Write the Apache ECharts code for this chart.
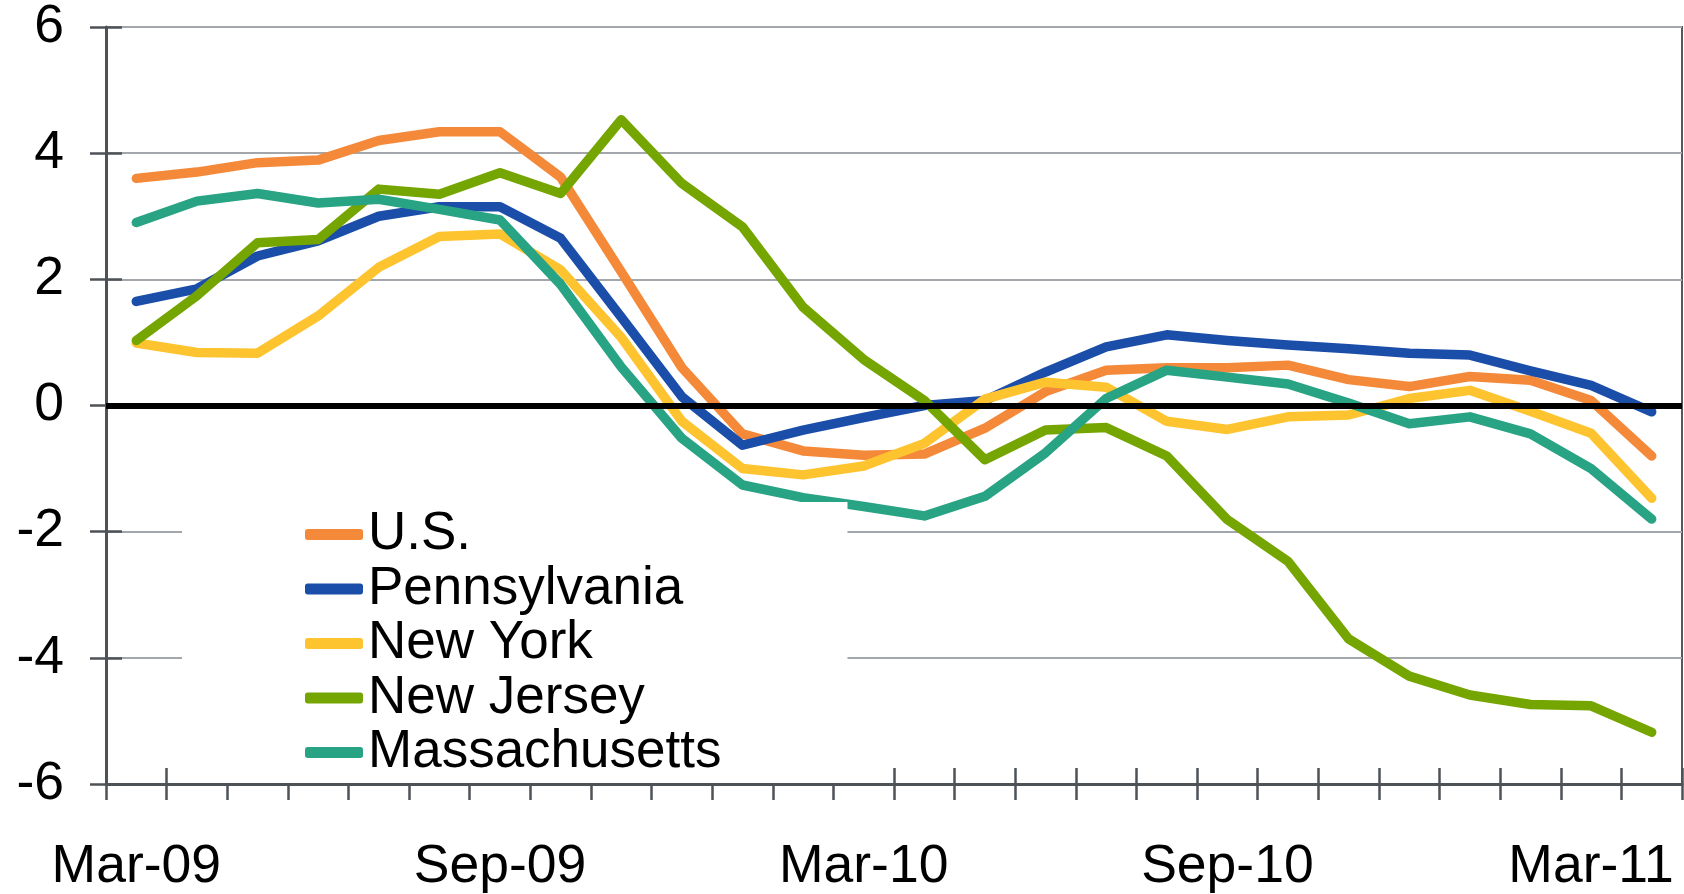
<!DOCTYPE html>
<html>
<head>
<meta charset="utf-8">
<script src="https://cdn.jsdelivr.net/npm/echarts@6/dist/echarts.min.js"></script>
<style>
    html, body { margin: 0; padding: 0; background: #fff; }
    #chart { width: 1684px; height: 894px; }
</style>
</head>
<body>
<div id="chart"></div>
<script>
    // months Mar-09 .. Apr-11
    var months = ['Mar-09', 'Apr-09', 'May-09', 'Jun-09', 'Jul-09', 'Aug-09', 'Sep-09', 'Oct-09', 'Nov-09', 'Dec-09',
        'Jan-10', 'Feb-10', 'Mar-10', 'Apr-10', 'May-10', 'Jun-10', 'Jul-10', 'Aug-10', 'Sep-10', 'Oct-10',
        'Nov-10', 'Dec-10', 'Jan-11', 'Feb-11', 'Mar-11', 'Apr-11'];

    var seriesNames = ['U.S.', 'Pennsylvania', 'New York', 'New Jersey', 'Massachusetts'];

    var usData = [3.6, 3.7, 3.85, 3.89, 4.2, 4.34, 4.34, 3.62, 2.12, 0.6, -0.45, -0.72, -0.79, -0.77, -0.36, 0.22,
        0.56, 0.6, 0.6, 0.64, 0.41, 0.3, 0.46, 0.4, 0.08, -0.8];
    var paData = [1.65, 1.85, 2.37, 2.61, 3.0, 3.15, 3.15, 2.65, 1.4, 0.14, -0.63, -0.39, -0.19, 0.0, 0.08, 0.53,
        0.93, 1.12, 1.03, 0.96, 0.9, 0.83, 0.8, 0.55, 0.32, -0.1];
    var nyData = [0.99, 0.84, 0.83, 1.42, 2.19, 2.68, 2.72, 2.15, 1.08, -0.25, -1.0, -1.1, -0.96, -0.6, 0.1, 0.37,
        0.29, -0.25, -0.38, -0.18, -0.15, 0.11, 0.24, -0.09, -0.44, -1.47];
    var njData = [1.03, 1.74, 2.58, 2.63, 3.43, 3.35, 3.69, 3.36, 4.53, 3.52, 2.83, 1.56, 0.73, 0.08, -0.86, -0.39,
        -0.35, -0.8, -1.81, -2.47, -3.7, -4.29, -4.59, -4.74, -4.76, -5.18];
    var maData = [2.9, 3.24, 3.36, 3.21, 3.27, 3.11, 2.94, 1.92, 0.61, -0.52, -1.26, -1.46, -1.6, -1.75, -1.44, -0.75,
        0.11, 0.56, 0.45, 0.34, 0.04, -0.29, -0.18, -0.45, -1.0, -1.8];

    var colors = ['#f4893a', '#1b4ea8', '#fec42f', '#75a501', '#28a384'];
    var font = '"Liberation Sans", Arial, sans-serif';
    var axisColor = '#4d5257';

    var chart = echarts.init(document.getElementById('chart'));

    var allData = [usData, paData, nyData, njData, maData];
    var series = allData.map(function (d, i) {
        return {
            name: seriesNames[i],
            type: 'line',
            data: d,
            symbol: 'none',
            color: colors[i],
            itemStyle: { color: colors[i] },
            lineStyle: { color: colors[i], width: 9.5, cap: 'round', join: 'round' }
        };
    });
    // zero line on top
    series[4].markLine = {
        silent: true,
        symbol: ['none', 'none'],
        label: { show: false },
        lineStyle: { color: '#000', width: 6, type: 'solid' },
        data: [{ yAxis: 0 }]
    };

    chart.setOption({
        animation: false,
        grid: {
            left: 106, right: 2, top: 27, bottom: 107,
            show: true, borderColor: '#55595d', borderWidth: 2
        },
        legend: {
            orient: 'vertical',
            left: 182,
            top: 502,
            padding: [6, 126, 4, 123],
            backgroundColor: '#fff',
            itemWidth: 58,
            itemHeight: 11,
            itemGap: 1.5,
            icon: 'roundRect',
            textStyle: { fontSize: 53, lineHeight: 52, color: '#000', fontFamily: font },
            data: seriesNames
        },
        xAxis: [{
            type: 'category',
            data: months,
            boundaryGap: true,
            axisLine: { onZero: false, lineStyle: { color: axisColor, width: 3 } },
            axisTick: { show: true, interval: 0, length: 16, lineStyle: { color: axisColor, width: 2.5 } },
            axisLabel: { interval: 5, margin: 56, fontSize: 53.5, color: '#000', fontFamily: font },
            splitLine: { show: false }
        }, {
            type: 'category',
            data: months,
            position: 'bottom',
            boundaryGap: true,
            axisLine: { show: false, onZero: false },
            axisTick: { show: true, inside: true, interval: 0, length: 16, lineStyle: { color: axisColor, width: 2.5 } },
            axisLabel: { show: false },
            splitLine: { show: false }
        }],
        yAxis: [{
            type: 'value',
            min: -6, max: 6, interval: 2,
            axisLine: { show: true, lineStyle: { color: axisColor, width: 3 } },
            axisTick: { show: true, length: 16, lineStyle: { color: axisColor, width: 2.5 } },
            axisLabel: { margin: 42, fontSize: 53.5, color: '#000', fontFamily: font },
            splitLine: { lineStyle: { color: '#a3a6aa', width: 2 } }
        }, {
            type: 'value',
            min: -6, max: 6, interval: 2,
            position: 'left',
            axisLine: { show: false },
            axisTick: { show: true, inside: true, length: 16, lineStyle: { color: axisColor, width: 2.5 } },
            axisLabel: { show: false },
            splitLine: { show: false }
        }],
        series: series
    });
</script>
</body>
</html>
